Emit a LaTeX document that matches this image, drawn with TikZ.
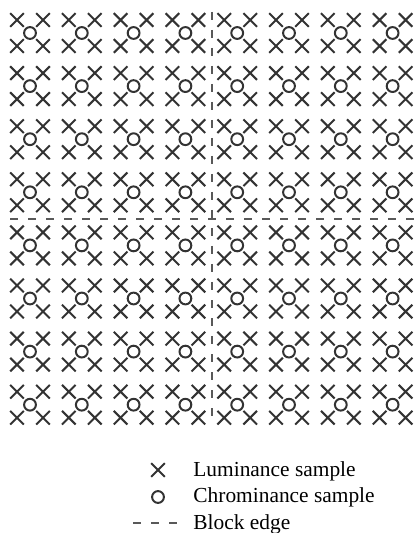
\documentclass[tikz,border=0pt]{standalone}
\usepackage{fontspec}
\setmainfont{Liberation Serif}
\usetikzlibrary{shapes.misc,positioning}

\begin{document}
\begin{tikzpicture}[
  x=0.5pt, y=-0.5pt,
  luma/.style={cross out,draw=black!80,minimum size=5.8pt,inner sep=0pt,
               line width=1pt},
  chroma/.style={circle,draw=black!80,minimum size=5.9pt,inner sep=0pt,
                 line width=1pt},
  blockedge/.style={draw=black!65,line width=0.9pt,dash pattern=on 4pt off 5pt},
  keytext/.style={anchor=base west,inner sep=0pt,
                  font=\fontsize{10.7}{13}\selectfont}
]
  \useasboundingbox (0,0) rectangle (416,533);

  % sample groups: 4 luma around 1 chroma
  \foreach \i in {0,...,7}
    \foreach \j in {0,...,7} {
      \coordinate (g-\i-\j) at ({30+51.8*\i},{33+53.1*\j});
      \node[chroma] (c-\i-\j) at (g-\i-\j) {};
      \foreach \dx/\dy/\k in {-13/-13/a,13/-13/b,-13/13/c,13/13/d}
        \node[luma] (l-\i-\j-\k) at ([shift={(\dx,\dy)}]g-\i-\j) {};
    }

  % block edges
  \coordinate (vtop)   at (212,12);
  \coordinate (vbot)   at (212,423);
  \coordinate (hleft)  at (10,219);
  \coordinate (hright) at (416,219);
  \draw[blockedge] (vtop) -- (vbot);
  \draw[blockedge] (hleft) -- (hright);

  % key
  \node[luma]   (keyluma)   at (158,470) {};
  \node[chroma] (keychroma) at (158,497) {};
  \coordinate (keyedgeA) at (133,523);
  \coordinate (keyedgeB) at (177,523);
  \draw[blockedge] (keyedgeA) -- (keyedgeB);
  \node[keytext] (lumatext)   at (193,476) {Luminance sample};
  \node[keytext] (chromatext) at (193,502) {Chrominance sample};
  \node[keytext] (edgetext)   at (193,529) {Block edge};
\end{tikzpicture}
\end{document}
